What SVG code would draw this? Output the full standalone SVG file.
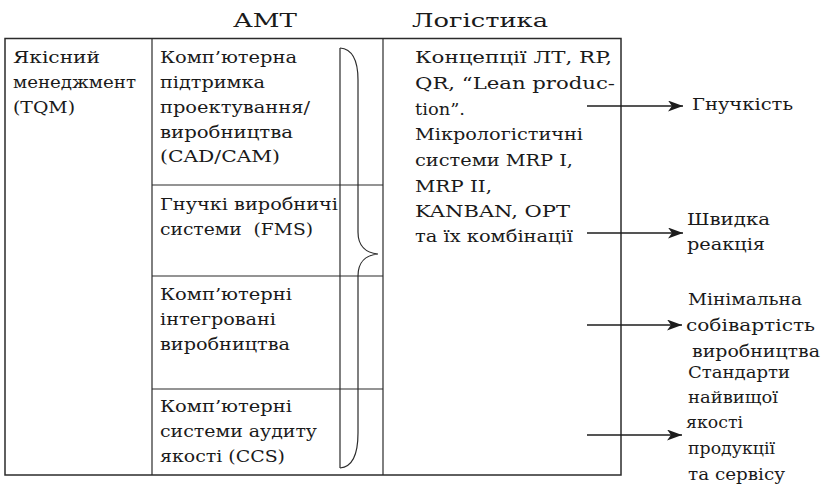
<svg xmlns="http://www.w3.org/2000/svg" width="826" height="494" viewBox="0 0 826 494">
<style>
.t{font-family:"DejaVu Serif","Liberation Serif",serif;font-size:16px;fill:#1a1a1a}
.h{font-family:"DejaVu Serif","Liberation Serif",serif;font-size:18px;fill:#1a1a1a}
.ln{stroke:#2b2b2b;stroke-width:1.2;fill:none}
.bx{stroke:#2b2b2b;stroke-width:1.5;fill:none}
.ar{stroke:#1c1c1c;stroke-width:1.3;fill:none;marker-end:url(#ah)}
</style>
<defs>
<marker id="ah" markerUnits="userSpaceOnUse" markerWidth="16" markerHeight="12" refX="15" refY="5.5" orient="auto">
<path d="M0,0 L15,5.5 L0,11 L4,5.5 z" fill="#1c1c1c"/>
</marker>
</defs>
<rect width="826" height="494" fill="#fff"/>
<g id="headers">
<text class="h" x="233" y="27" textLength="64" lengthAdjust="spacingAndGlyphs">АМТ</text>
<text class="h" x="412" y="27" textLength="136" lengthAdjust="spacingAndGlyphs">Логістика</text>
</g>
<g id="table">
<rect class="bx" x="5" y="38.5" width="616" height="436.5"/>
<line class="ln" x1="152" y1="38.5" x2="152" y2="475"/>
<line class="ln" x1="383" y1="38.5" x2="383" y2="475"/>
<line class="ln" x1="152" y1="185" x2="383" y2="185"/>
<line class="ln" x1="152" y1="276" x2="383" y2="276"/>
<line class="ln" x1="152" y1="389" x2="383" y2="389"/>
</g>
<g id="brace">
<line class="ln" x1="340" y1="48" x2="340" y2="468"/>
<path class="ln" d="M340,48 C352,49 358,60 358,80 L358,232 C358,246 366,253 378,254 C366,255 358,262 358,276 L358,433 C358,455 352,467 340,468"/>
</g>
<g id="tqm">
<text class="t" x="13" y="63" textLength="87" lengthAdjust="spacingAndGlyphs">Якісний</text>
<text class="t" x="13" y="88" textLength="123" lengthAdjust="spacingAndGlyphs">менеджмент</text>
<text class="t" x="13" y="113" textLength="62" lengthAdjust="spacingAndGlyphs">(TQM)</text>
</g>
<g id="cadcam">
<text class="t" x="160" y="63" textLength="137" lengthAdjust="spacingAndGlyphs">Комп’ютерна</text>
<text class="t" x="160" y="88" textLength="105" lengthAdjust="spacingAndGlyphs">підтримка</text>
<text class="t" x="160" y="113" textLength="150" lengthAdjust="spacingAndGlyphs">проектування/</text>
<text class="t" x="160" y="138" textLength="133" lengthAdjust="spacingAndGlyphs">виробництва</text>
<text class="t" x="160" y="162" textLength="120" lengthAdjust="spacingAndGlyphs">(CAD/CAM)</text>
</g>
<g id="fms">
<text class="t" x="160" y="210" textLength="178" lengthAdjust="spacingAndGlyphs">Гнучкі виробничі</text>
<text class="t" x="160" y="235" textLength="153" lengthAdjust="spacingAndGlyphs" xml:space="preserve">системи  (FMS)</text>
</g>
<g id="cim">
<text class="t" x="160" y="300" textLength="132" lengthAdjust="spacingAndGlyphs">Комп’ютерні</text>
<text class="t" x="160" y="325" textLength="116" lengthAdjust="spacingAndGlyphs">інтегровані</text>
<text class="t" x="160" y="350" textLength="130" lengthAdjust="spacingAndGlyphs">виробництва</text>
</g>
<g id="ccs">
<text class="t" x="160" y="412" textLength="132" lengthAdjust="spacingAndGlyphs">Комп’ютерні</text>
<text class="t" x="160" y="437" textLength="157" lengthAdjust="spacingAndGlyphs">системи аудиту</text>
<text class="t" x="160" y="462" textLength="125" lengthAdjust="spacingAndGlyphs">якості (CCS)</text>
</g>
<g id="logistics">
<text class="t" x="415" y="63" textLength="197" lengthAdjust="spacingAndGlyphs">Концепції ЛТ, RP,</text>
<text class="t" x="415" y="89" textLength="200" lengthAdjust="spacingAndGlyphs">QR, “Lean produc-</text>
<text class="t" x="415" y="115" textLength="50" lengthAdjust="spacingAndGlyphs">tion”.</text>
<text class="t" x="415" y="140" textLength="168" lengthAdjust="spacingAndGlyphs">Мікрологістичні</text>
<text class="t" x="415" y="166" textLength="158" lengthAdjust="spacingAndGlyphs">системи MRP I,</text>
<text class="t" x="415" y="192" textLength="77" lengthAdjust="spacingAndGlyphs">MRP II,</text>
<text class="t" x="415" y="217" textLength="155" lengthAdjust="spacingAndGlyphs">KANBAN, OPT</text>
<text class="t" x="415" y="242" textLength="158" lengthAdjust="spacingAndGlyphs">та їх комбінації</text>
</g>
<g id="connectors">
<line class="ar" x1="587" y1="106" x2="683" y2="106"/>
<line class="ar" x1="587" y1="233" x2="683" y2="233"/>
<line class="ar" x1="587" y1="325" x2="682" y2="325"/>
<line class="ar" x1="587" y1="435" x2="682" y2="435"/>
</g>
<g id="flex">
<text class="t" x="692" y="110" textLength="101" lengthAdjust="spacingAndGlyphs">Гнучкість</text>
</g>
<g id="speed">
<text class="t" x="687" y="225" textLength="83" lengthAdjust="spacingAndGlyphs">Швидка</text>
<text class="t" x="687" y="250" textLength="78" lengthAdjust="spacingAndGlyphs">реакція</text>
</g>
<g id="cost">
<text class="t" x="688" y="305" textLength="114" lengthAdjust="spacingAndGlyphs">Мінімальна</text>
<text class="t" x="686" y="331" textLength="129" lengthAdjust="spacingAndGlyphs">собівартість</text>
<text class="t" x="692" y="357" textLength="128" lengthAdjust="spacingAndGlyphs">виробництва</text>
</g>
<g id="quality">
<text class="t" x="688" y="378" textLength="102" lengthAdjust="spacingAndGlyphs">Стандарти</text>
<text class="t" x="688" y="403" textLength="90" lengthAdjust="spacingAndGlyphs">найвищої</text>
<text class="t" x="686" y="428" textLength="57" lengthAdjust="spacingAndGlyphs">якості</text>
<text class="t" x="688" y="454" textLength="87" lengthAdjust="spacingAndGlyphs">продукції</text>
<text class="t" x="688" y="480" textLength="97" lengthAdjust="spacingAndGlyphs">та сервісу</text>
</g>
</svg>
